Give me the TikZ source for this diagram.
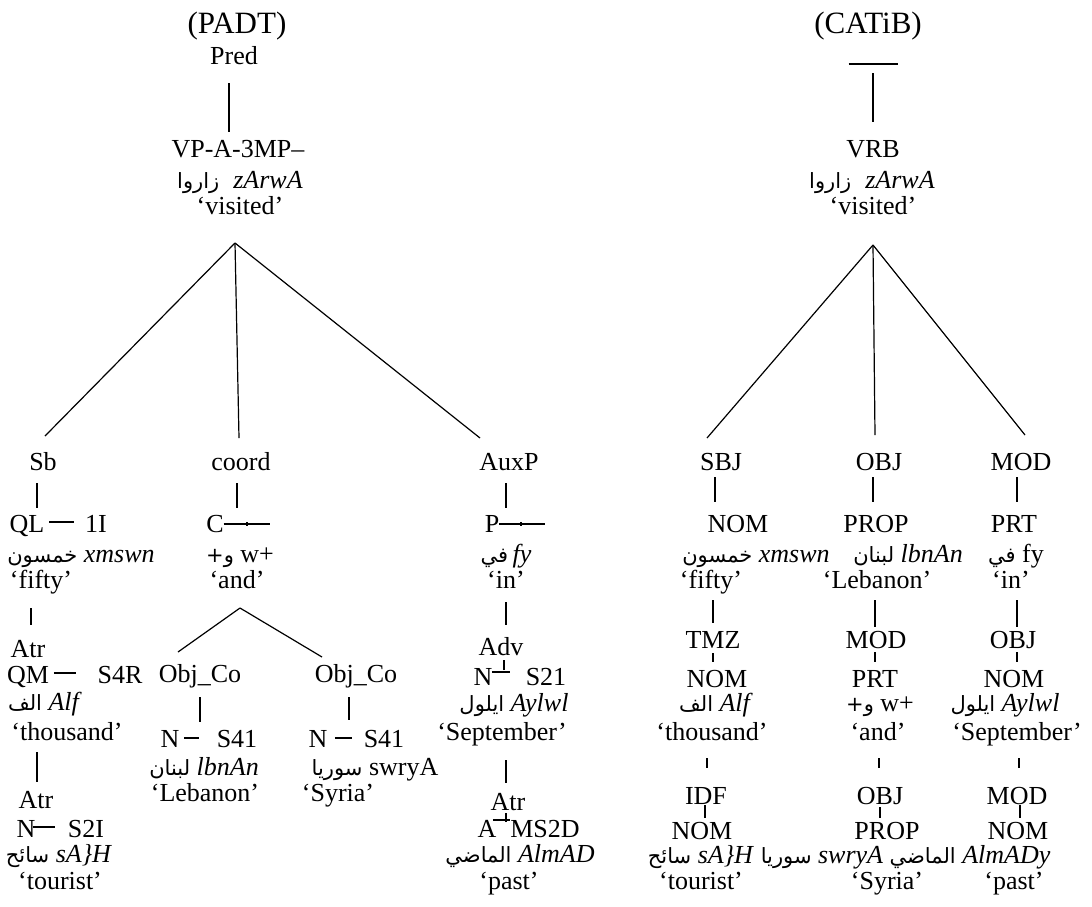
\documentclass[tikz,border=0pt]{standalone}
\usepackage{fontspec}
\setmainfont{Liberation Serif}
\newfontfamily\arabicfont[Script=Arabic]{DejaVu Sans}
\TeXXeTstate=1
\usetikzlibrary{calc}

% Arabic words, set right to left
\newcommand\ar[1]{{\arabicfont\fontsize{21}{24}\selectfont\beginR #1\endR}}
\newcommand\titlefont{\fontsize{31}{34}\selectfont}
% vertical link from node #1 down to node #2, x offset #3, trims #4/#5
\newcommand\vconn[5]{\draw[link,shorten <=#4pt,shorten >=#5pt] ([xshift=#3pt]#1.south) -- ([xshift=#3pt]#1.south |- #2.north);}
% horizontal dash between a tag and its features, raised #3, trims #4/#5
\newcommand\hconn[5]{\draw[link,shorten <=#4pt,shorten >=#5pt] ([yshift=#3pt]#1.base east) -- ([yshift=#3pt]#2.base west);}

\begin{document}
\begin{tikzpicture}[x=1pt,y=-1pt,
  every node/.style={inner sep=0pt,outer sep=0pt,anchor=base,font=\fontsize{26}{28}\selectfont},
  lab/.style={text height=18pt,text depth=5pt},
  link/.style={line width=1.2pt,line cap=butt}]
\useasboundingbox (0,0) rectangle (1092,906);

% ---------------- PADT tree ----------------
\node[lab,font=\titlefont] (ptitle) at (237,33) {(PADT)};
\node[lab] (ppred) at (234,64) {Pred};
\node[lab] (pvp) at (238,157) {VP-A-3MP–};
\node[lab] (pword) at (240,188) {\ar{زاروا}\hspace{14pt}\textit{zArwA}};
\node[lab] (pvis) at (240,214) {‘visited’};

\node[lab] (psb) at (43,470) {Sb};
\node[lab] (pcoord) at (241,470) {coord};
\node[lab] (pauxp) at (509,470) {AuxP};

\node[lab] (pql) at (27,532) {QL};
\node[lab] (pqltag) at (96,532) {1I};
\node[lab] (pc) at (215,532) {C};
\node[lab] (pp) at (492,532) {P};

\node[lab] (pfiftyar) at (81,562) {\ar{خمسون}\ \textit{xmswn}};
\node[lab] (pandar) at (240,562) {\ar{و+}\ w+};
\node[lab] (pinar) at (506,562) {\ar{في}\,\textit{fy}};

\node[lab] (pfifty) at (41,588) {‘fifty’};
\node[lab] (pand) at (237,588) {‘and’};
\node[lab] (pin) at (506,588) {‘in’};

\node[lab] (patra) at (28,657) {Atr};
\node[lab] (padv) at (501,655) {Adv};

\node[lab] (pqm) at (28,683) {QM};
\node[lab] (pqmtag) at (120,683) {S4R};
\node[lab] (pobja) at (200,682) {Obj\_Co};
\node[lab] (pobjb) at (356,682) {Obj\_Co};
\node[lab] (pnadv) at (483,685) {N};
\node[lab] (pnadvtag) at (546,685) {S21};

\node[lab] (palf) at (45,710) {\ar{الف}\ \textit{Alf}};
\node[lab] (paylwl) at (514,711) {\ar{ايلول}\ \textit{Aylwl}};

\node[lab] (pthou) at (67,740) {‘thousand’};
\node[lab] (psep) at (502,740) {‘September’};
\node[lab] (pna) at (170,747) {N};
\node[lab] (pnatag) at (237,747) {S41};
\node[lab] (pnb) at (318,747) {N};
\node[lab] (pnbtag) at (384,747) {S41};

\node[lab] (plbnan) at (204,775) {\ar{لبنان}\ \textit{lbnAn}};
\node[lab] (pswrya) at (375,775) {\ar{سوريا}\ swryA};
\node[lab] (pleb) at (205,801) {‘Lebanon’};
\node[lab] (psyr) at (338,801) {‘Syria’};

\node[lab] (patrb) at (36,808) {Atr};
\node[lab] (patrc) at (508,810) {Atr};

\node[lab] (pntour) at (26,837) {N};
\node[lab] (pntourtag) at (86,837) {S2I};
\node[lab] (papast) at (487,837) {A};
\node[lab] (papasttag) at (545,837) {MS2D};

\node[lab] (psaih) at (59,862) {\ar{سائح}\ \textit{sA\}H}};
\node[lab] (pmadi) at (520,862) {\ar{الماضي}\ \textit{AlmAD}};
\node[lab] (ptour) at (60,889) {‘tourist’};
\node[lab] (ppast) at (509,889) {‘past’};

% PADT links
\vconn{ppred}{pvp}{-5}{14}{7}
\coordinate (papex) at ([xshift=-5pt,yshift=-24pt]pvis.south);
\draw[link] (papex) -- ([xshift=2pt,yshift=16pt]psb.north);
\draw[link] (papex) -- ([xshift=-2pt,yshift=14pt]pcoord.north);
\draw[link] (papex) -- ([xshift=-29pt,yshift=14pt]pauxp.north);
\vconn{psb}{pql}{-6}{8}{6}
\vconn{pcoord}{pc}{-4}{8}{6}
\vconn{pauxp}{pp}{-3}{8}{6}
\vconn{pfifty}{patra}{-10}{15}{14}
\vconn{pin}{padv}{0}{9}{12}
\coordinate (pandapex) at ([xshift=3pt,yshift=-15pt]pand.south);
\draw[link] (pandapex) -- ([xshift=-22pt,yshift=12pt]pobja.north);
\draw[link] (pandapex) -- ([xshift=-34pt,yshift=7pt]pobjb.north);
\vconn{pobja}{pna}{0}{10}{7}
\vconn{pobjb}{pnb}{-7}{10}{9}
\vconn{pthou}{patrb}{-30}{7}{8}
\vconn{psep}{patrc}{4}{15}{9}

% PADT feature dashes
\hconn{pql}{pqltag}{10}{4.7}{11}
\hconn{pqm}{pqmtag}{10}{5}{22}
\hconn{pna}{pnatag}{9}{5}{18}
\hconn{pnb}{pnbtag}{9}{7.6}{11.8}
\hconn{pntour}{pntourtag}{10}{-2.4}{13}
\hconn{pnadv}{pnadvtag}{13}{-0.4}{15.8}
\hconn{papast}{papasttag}{17}{-3.4}{0.3}
\draw[link] ([yshift=8pt]pc.base east) -- ++(46,0);
\draw[link] ([xshift=23.3pt,yshift=10pt]pc.base east) -- ++(0,4);
\draw[link] ([yshift=8pt]pp.base east) -- ++(46,0);
\draw[link] ([xshift=21.7pt,yshift=10pt]pp.base east) -- ++(0,4);
\draw[link] ([xshift=11.6pt,yshift=15pt]pnadv.base east) -- ++(0,-10);
\draw[link] ([xshift=9.6pt,yshift=15pt]papast.base east) -- ++(0,-9);

% ---------------- CATiB tree ----------------
\node[lab,font=\titlefont] (ctitle) at (868,33) {(CATiB)};
\coordinate (croot) at (873,64);
\node[lab] (cvrb) at (873,157) {VRB};
\node[lab] (cword) at (872,188) {\ar{زاروا}\hspace{14pt}\textit{zArwA}};
\node[lab] (cvis) at (873,214) {‘visited’};

\node[lab] (csbj) at (721,470) {SBJ};
\node[lab] (cobja) at (879,470) {OBJ};
\node[lab] (cmoda) at (1021,470) {MOD};
\node[lab] (cnoma) at (738,532) {NOM};
\node[lab] (cpropa) at (876,532) {PROP};
\node[lab] (cprta) at (1014,532) {PRT};
\node[lab] (cxmswn) at (756,562) {\ar{خمسون}\ \textit{xmswn}};
\node[lab] (clbnan) at (908,562) {\ar{لبنان}\ \textit{lbnAn}};
\node[lab] (cfy) at (1016,562) {\ar{في}\ fy};
\node[lab] (cfifty) at (711,588) {‘fifty’};
\node[lab] (cleb) at (877,588) {‘Lebanon’};
\node[lab] (cin) at (1011,588) {‘in’};
\node[lab] (ctmz) at (713,648) {TMZ};
\node[lab] (cmodb) at (876,648) {MOD};
\node[lab] (cobjb) at (1013,648) {OBJ};
\node[lab] (cnomb) at (717,687) {NOM};
\node[lab] (cprtb) at (875,687) {PRT};
\node[lab] (cnomc) at (1014,687) {NOM};
\node[lab] (calf) at (716,711) {\ar{الف}\ \textit{Alf}};
\node[lab] (cw) at (880,711) {\ar{و+}\ w+};
\node[lab] (caylwl) at (1005,711) {\ar{ايلول}\ \textit{Aylwl}};
\node[lab] (cthou) at (712,740) {‘thousand’};
\node[lab] (cand) at (878,740) {‘and’};
\node[lab] (csep) at (1017,740) {‘September’};
\node[lab] (cidf) at (706,804) {IDF};
\node[lab] (cobjc) at (880,804) {OBJ};
\node[lab] (cmodc) at (1017,804) {MOD};
\node[lab] (cnomd) at (702,839) {NOM};
\node[lab] (cpropb) at (887,839) {PROP};
\node[lab] (cnome) at (1018,839) {NOM};
\node[lab] (csaih) at (701,863) {\ar{سائح}\ \textit{sA\}H}};
\node[lab] (cswrya) at (822,863) {\ar{سوريا}\ \textit{swryA}};
\node[lab] (cmadi) at (970,863) {\ar{الماضي}\ \textit{AlmADy}};
\node[lab] (ctour) at (701,889) {‘tourist’};
\node[lab] (csyr) at (887,889) {‘Syria’};
\node[lab] (cpast) at (1014,889) {‘past’};

% CATiB links
\draw[line width=2pt] ([xshift=-24.5pt]croot) -- ([xshift=24.5pt]croot);
\draw[link] ([yshift=-9pt]croot) -- ([yshift=17pt]cvrb.north);
\coordinate (capex) at ([yshift=-26pt]cvis.south);
\draw[link] (capex) -- ([xshift=-14pt,yshift=14pt]csbj.north);
\draw[link] (capex) -- ([xshift=-4pt,yshift=17pt]cobja.north);
\draw[link] (capex) -- ([xshift=4pt,yshift=17pt]cmoda.north);
\vconn{csbj}{cnoma}{-6}{2}{12}
\vconn{cobja}{cpropa}{-6}{2}{12}
\vconn{cmoda}{cprta}{-4}{2}{12}
\vconn{cfifty}{ctmz}{2}{7}{7}
\vconn{ctmz}{cnomb}{0}{0}{7}
\vconn{cleb}{cmodb}{-2}{7}{3}
\vconn{cmodb}{cprtb}{-1}{-1}{7}
\vconn{cin}{cobjb}{6}{7}{3}
\vconn{cobjb}{cnomc}{4}{-1}{7}
\vconn{cthou}{cidf}{-5}{13}{18}
\vconn{cidf}{cnomd}{-1}{-4}{3}
\vconn{cand}{cobjc}{1}{13}{18}
\vconn{cobjc}{cpropb}{0}{-2}{3}
\vconn{csep}{cmodc}{2}{13}{18}
\vconn{cmodc}{cnome}{3}{-4}{3}
\end{tikzpicture}
\end{document}
